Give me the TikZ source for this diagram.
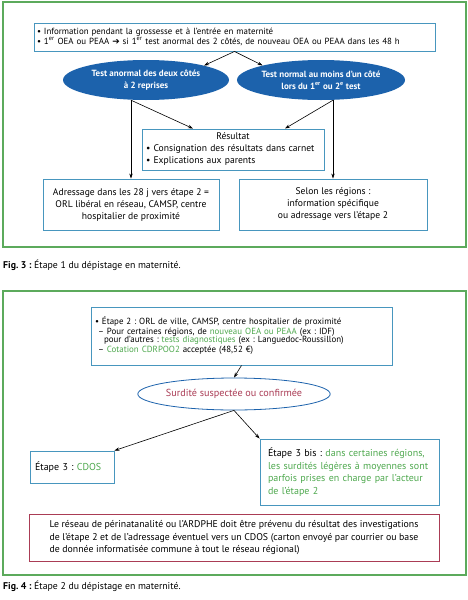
\documentclass[tikz,border=0pt]{standalone}
\usepackage{fontspec}
\setmainfont{PT Sans}
\newfontfamily\symfont{DejaVu Sans}
\usetikzlibrary{arrows.meta,positioning,shapes.geometric,calc}

\definecolor{framegreen}{RGB}{92,170,92}
\definecolor{boxblue}{RGB}{72,150,190}
\definecolor{ellblue}{RGB}{28,98,172}
\definecolor{txtgreen}{RGB}{78,168,78}
\definecolor{txtred}{RGB}{170,60,85}

\tikzset{
    infobox/.style = {rectangle, draw=boxblue, line width=0.9pt, inner sep=0pt, font=\fontsize{9.6}{12}\selectfont},
    blueell/.style = {ellipse, fill=ellblue, text=white, inner sep=0pt, align=center, font=\fontsize{9}{12}\selectfont\bfseries},
    arr/.style = {-{Stealth[length=5pt,width=3.4pt]}, line width=0.6pt},
    caption/.style = {anchor=west, inner sep=0pt, font=\fontsize{9.8}{11}\selectfont}
}

\begin{document}
\frenchspacing
\begin{tikzpicture}[x=1pt, y=-1pt]
    \useasboundingbox (0,0) rectangle (468,600);
    \def\up{\textsuperscript}

    % Fig. 3 : etape 1
    \draw[framegreen, line width=1.6pt] (3,2) rectangle (466,247);

    \node(info) [infobox, minimum width=401pt, minimum height=28pt, text width=395pt,
        font=\fontsize{8.9}{10.5}\selectfont] at (234.5,37)
        {\textbullet\ Information pendant la grossesse et à l'entrée en maternité\\
         \textbullet\ 1\up{er} OEA ou PEAA {\symfont\char"2794} si 1\up{er} test anormal des 2 côtés, de nouveau OEA ou PEAA dans les 48 h};

    \node(testab) [blueell, minimum width=166pt, minimum height=40pt] at (146,80)
        {Test anormal des deux côtés\\à 2 reprises};
    \node(testnorm) [blueell, minimum width=165pt, minimum height=40pt] at (321,80)
        {Test normal au moins d'un côté\\lors du 1\up{er} ou 2\up{e} test};

    \node(result) [infobox, minimum width=182pt, minimum height=41pt, text width=174pt] at (233,149.5)
        {\centering Résultat\par
         \raggedright\textbullet\ Consignation des résultats dans carnet\\
         \textbullet\ Explications aux parents};

    \node(adress) [infobox, minimum width=176pt, minimum height=51pt, align=center] at (131,204.5)
        {Adressage dans les 28 j vers étape 2 =\\ORL libéral en réseau, CAMSP, centre\\hospitalier de proximité};
    \node(selon) [infobox, minimum width=188pt, minimum height=51pt, align=center] at (333,204.5)
        {Selon les régions :\\information spécifique\\ou adressage vers l'étape 2};

    \coordinate (lfoot) at (testab.south -| adress.north);
    \coordinate (rfoot) at (testnorm.south -| selon.north);

    \draw[arr] (info.south) -- (testab.14);
    \draw[arr] (info.south) -- (testnorm.166);
    \draw[arr] (lfoot) -- (adress.north);
    \draw[arr] (rfoot) -- (selon.north);
    \draw[arr] (lfoot) -- ($(result.north)+(-40,0)$);
    \draw[arr] (rfoot) -- ($(result.north)+(52,0)$);

    \node(cap3) [caption] at (3,265) {\textbf{Fig. 3 :} Étape 1 du dépistage en maternité.};

    % Fig. 4 : etape 2
    \draw[framegreen, line width=1.6pt] (3,291) rectangle (466,575);

    \node(etape) [infobox, minimum width=301pt, minimum height=58pt, text width=293pt,
        font=\fontsize{8.9}{10.5}\selectfont] at (241.5,336)
        {\textbullet\ Étape 2 : ORL de ville, CAMSP, centre hospitalier de proximité\\[-0.5pt]
         \hspace*{3pt}-- Pour certaines régions, de \textcolor{txtgreen}{nouveau OEA ou PEAA} (ex : IDF)\\[-2.5pt]
         \hspace*{9pt}pour d'autres : \textcolor{txtgreen}{tests diagnostiques} (ex : Languedoc-Roussillon)\\[-0.5pt]
         \hspace*{3pt}-- \textcolor{txtgreen}{Cotation CDRPOO2} acceptée (48,52 €)};

    \node(surd) [ellipse, draw=ellblue, line width=0.8pt, fill=white, text=txtred, inner sep=0pt,
        minimum width=170pt, minimum height=32pt, font=\fontsize{10.2}{12}\selectfont] at (234,394)
        {Surdité suspectée ou confirmée};

    \node(etape3) [infobox, minimum width=84pt, minimum height=32pt, text width=74pt,
        font=\fontsize{10}{12}\selectfont] at (72,467)
        {Étape 3 : \textcolor{txtgreen}{CDOS}};

    \node(bis) [infobox, minimum width=179pt, minimum height=66pt, text width=163pt, align=left,
        font=\fontsize{10}{12.6}\selectfont] at (349.5,472)
        {Étape 3 bis : \textcolor{txtgreen}{dans certaines régions,}\\
         \textcolor{txtgreen}{les surdités légères à moyennes sont}\\
         \textcolor{txtgreen}{parfois prises en charge par l'acteur}\\
         \textcolor{txtgreen}{de l'étape 2}};

    \node(reseau) [infobox, draw=txtred, minimum width=410pt, minimum height=47pt,
        align=left, font=\fontsize{9.8}{12.4}\selectfont] at (234,537.5)
        {Le réseau de périnatanalité ou l'ARDPHE doit être prévenu du résultat des investigations\\
         de l'étape 2 et de l'adressage éventuel vers un CDOS (carton envoyé par courrier ou base\\
         de donnée informatisée commune à tout le réseau régional)};

    \draw[arr] (etape.south) -- (surd.north);
    \draw[arr] (surd.south) -- (etape3.north east);
    \draw[arr] (surd.south) -- (bis.north west);

    \node(cap4) [caption] at (3,586) {\textbf{Fig. 4 :} Étape 2 du dépistage en maternité.};
\end{tikzpicture}
\end{document}
